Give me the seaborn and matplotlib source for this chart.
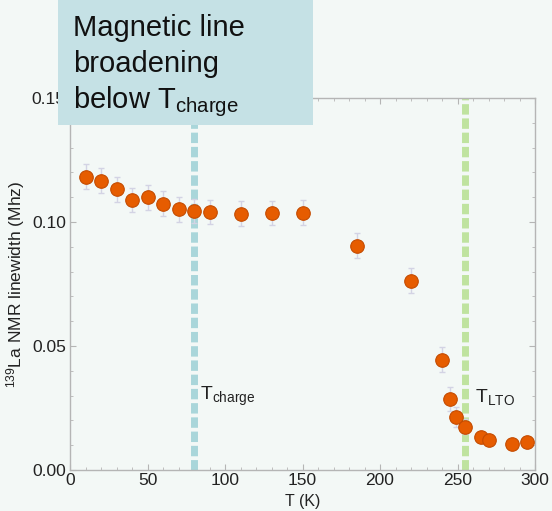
import matplotlib
matplotlib.use("Agg")
import matplotlib.pyplot as plt
import seaborn as sns
import pandas as pd
from matplotlib.ticker import MultipleLocator
from matplotlib.patches import Rectangle

# 139La NMR linewidth vs temperature
temperature_K = [10, 20, 30, 40, 50, 60, 70, 80, 90, 110, 130, 150,
                 185, 220, 240, 245, 249, 255, 265, 270, 285, 295]
linewidth_MHz = [0.1183, 0.1167, 0.1132, 0.1089, 0.1100, 0.1073, 0.1052,
                 0.1044, 0.1040, 0.1033, 0.1036, 0.1037,
                 0.0904, 0.0763, 0.0444, 0.0286, 0.0215, 0.0175,
                 0.0132, 0.0121, 0.0105, 0.0112]
linewidth_err = [0.005, 0.005, 0.005, 0.005, 0.005, 0.005, 0.005,
                 0.005, 0.005, 0.005, 0.005, 0.005,
                 0.005, 0.005, 0.005, 0.005, 0.004, 0.003,
                 0.002, 0.002, 0.002, 0.002]

T_charge = 80
T_LTO = 255

x_ticks = [0, 50, 100, 150, 200, 250, 300]
y_ticks = [0.00, 0.05, 0.10, 0.15]

df = pd.DataFrame({"T": temperature_K, "w": linewidth_MHz, "err": linewidth_err})

sns.set_style("ticks")
bg = "#f3f8f6"
plt.rcParams.update({
    "font.family": ["Liberation Sans", "DejaVu Sans"],
    "mathtext.fontset": "custom",
    "mathtext.rm": "Liberation Sans",
    "mathtext.it": "Liberation Sans",
    "mathtext.bf": "Liberation Sans",
    "text.color": "#222222",
    "axes.labelcolor": "#222222",
    "xtick.color": "#b5b5b5",
    "ytick.color": "#b5b5b5",
    "xtick.labelcolor": "#222222",
    "ytick.labelcolor": "#222222",
})

fig = plt.figure(figsize=(5.52, 5.11), dpi=100, facecolor=bg)
ax = fig.add_axes([70 / 552, 1 - 470 / 511, 465 / 552, 372 / 511])
ax.set_facecolor(bg)

# transition markers
ax.axvline(T_charge, color="#a9d6da", lw=5, linestyle=(0, (1.5, 0.55)), zorder=1)
ax.axvline(T_LTO, color="#bfe39f", lw=5, linestyle=(0, (1.5, 0.55)), zorder=1)

ax.errorbar(df["T"], df["w"], yerr=df["err"], fmt="none", ecolor="#d3d3e4",
            elinewidth=1, capsize=2, capthick=1, zorder=2)
sns.scatterplot(data=df, x="T", y="w", ax=ax, s=95, color="#e65c00",
                edgecolor="#c44b00", linewidth=0.8, zorder=3, legend=False)

ax.set_xlim(0, 300)
ax.set_ylim(0, 0.15)
ax.set_xticks(x_ticks)
ax.set_yticks(y_ticks)
ax.set_yticklabels([f"{v:.2f}" for v in y_ticks])
ax.xaxis.set_minor_locator(MultipleLocator(10))
ax.yaxis.set_minor_locator(MultipleLocator(0.01))
ax.tick_params(which="both", direction="in", top=True, right=True)
ax.tick_params(which="major", length=4, width=0.8, labelsize=12.5)
ax.tick_params(which="minor", length=2.5, width=0.6)
ax.tick_params(axis="x", which="major", pad=2.5)
ax.tick_params(axis="y", which="major", pad=3)
for s in ax.spines.values():
    s.set_color("#b5b5b5")
    s.set_linewidth(1)

ax.set_xlabel("T (K)", fontsize=11.5)
ax.set_ylabel("$^{139}$La NMR linewidth (Mhz)", fontsize=12.5)
ax.xaxis.set_label_coords(0.50, -0.064)
ax.yaxis.set_label_coords(-0.092, 0.5)

ax.text(84, 0.0295, "T$_{\\mathrm{charge}}$", fontsize=14, va="center", ha="left")
ax.text(261, 0.0295, "T$_{\\mathrm{LTO}}$", fontsize=14, va="center", ha="left")

# annotation box
fig.patches.append(Rectangle((58 / 552, 1 - 125 / 511), (313 - 58) / 552, 125 / 511,
                             transform=fig.transFigure, facecolor="#c5e1e5",
                             edgecolor="none", zorder=5))
for line, base in [("Magnetic line", 36), ("broadening", 72),
                   ("below T$_{\\mathrm{charge}}$", 108)]:
    fig.text(73 / 552, 1 - base / 511, line, fontsize=21, va="baseline",
             ha="left", color="#111111", zorder=6)

fig.savefig("out.png", dpi=100, facecolor=bg)
